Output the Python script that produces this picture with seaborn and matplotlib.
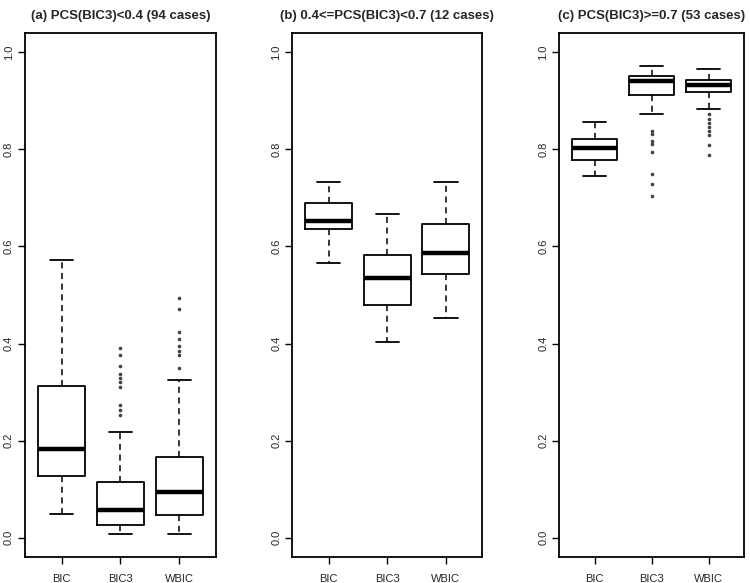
import numpy as np
import seaborn as sns
import matplotlib.pyplot as plt

# values (R-style boxplots)
methods = ["BIC", "BIC3", "WBIC"]
titles = ["(a) PCS(BIC3)<0.4 (94 cases)",
          "(b) 0.4<=PCS(BIC3)<0.7 (12 cases)",
          "(c) PCS(BIC3)>=0.7 (53 cases)"]

# panel a
a_whislo = [0.049, 0.007, 0.008]
a_q1 = [0.126, 0.025, 0.047]
a_med = [0.183, 0.057, 0.094]
a_q3 = [0.313, 0.114, 0.167]
a_whishi = [0.572, 0.217, 0.324]
a_fliers = [[],
            [0.390, 0.377, 0.354, 0.337, 0.329, 0.320, 0.311, 0.274, 0.263, 0.252],
            [0.494, 0.472, 0.424, 0.409, 0.394, 0.385, 0.376, 0.350]]

# panel b
b_whislo = [0.566, 0.403, 0.452]
b_q1 = [0.635, 0.479, 0.544]
b_med = [0.652, 0.536, 0.586]
b_q3 = [0.690, 0.582, 0.647]
b_whishi = [0.733, 0.667, 0.733]
b_fliers = [[], [], []]

# panel c
c_whislo = [0.745, 0.874, 0.884]
c_q1 = [0.779, 0.912, 0.918]
c_med = [0.803, 0.941, 0.933]
c_q3 = [0.821, 0.951, 0.944]
c_whishi = [0.857, 0.973, 0.965]
c_fliers = [[],
            [0.837, 0.831, 0.817, 0.811, 0.794, 0.750, 0.728, 0.704],
            [0.874, 0.862, 0.855, 0.846, 0.837, 0.829, 0.810, 0.788]]

panels = [
    (a_whislo, a_q1, a_med, a_q3, a_whishi, a_fliers),
    (b_whislo, b_q1, b_med, b_q3, b_whishi, b_fliers),
    (c_whislo, c_q1, c_med, c_q3, c_whishi, c_fliers),
]

sns.set_style("white")
plt.rcParams['font.family'] = ['Liberation Sans', 'DejaVu Sans']

fig = plt.figure(figsize=(7.5, 5.83), dpi=100)

# axes positions (left, width) in figure fraction
lefts = [0.0333, 0.3897, 0.7457]
widths = [0.2547, 0.2533, 0.2463]
bottom, height = 0.0446, 0.8988

for i, (wlo, q1, med, q3, whi, fl) in enumerate(panels):
    ax = fig.add_axes([lefts[i], bottom, widths[i], height])
    stats = []
    for j, m in enumerate(methods):
        stats.append(dict(label=m, whislo=wlo[j], q1=q1[j], med=med[j],
                          q3=q3[j], whishi=whi[j], fliers=fl[j]))
    ax.bxp(stats, positions=[1, 2, 3], widths=0.8, showfliers=True,
           boxprops=dict(color="black", linewidth=1.3),
           medianprops=dict(color="black", linewidth=3.2),
           whiskerprops=dict(color="black", linewidth=1.1, linestyle=(0, (4, 3))),
           capprops=dict(color="black", linewidth=1.3),
           capwidths=0.4,
           flierprops=dict(marker="o", markersize=1.6, markerfacecolor="#444444",
                           markeredgecolor="#444444"))
    ax.set_xlim(0.38, 3.62)
    ax.set_ylim(-0.04, 1.04)
    ax.set_yticks([0.0, 0.2, 0.4, 0.6, 0.8, 1.0])
    ax.set_yticklabels(["0.0", "0.2", "0.4", "0.6", "0.8", "1.0"],
                       rotation=90, va="center")
    ax.set_xticks([1, 2, 3])
    ax.set_xticklabels(methods)
    ax.tick_params(axis="both", direction="out", length=5, width=1,
                   labelsize=8, color="black", bottom=True, left=True)
    ax.tick_params(axis="y", pad=3)
    ax.tick_params(axis="x", pad=7)
    for s in ax.spines.values():
        s.set_visible(True)
        s.set_color("black")
        s.set_linewidth(1.3)
    ax.set_title(titles[i], fontsize=9.5, fontweight="bold", pad=10)

fig.savefig("out.png", dpi=100)
